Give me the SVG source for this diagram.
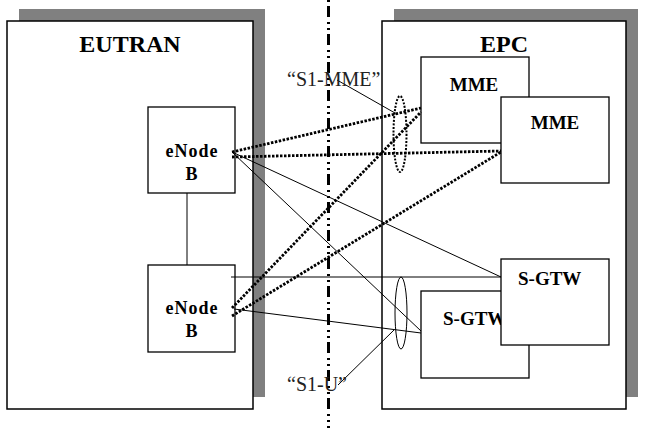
<svg xmlns="http://www.w3.org/2000/svg" width="647" height="428" viewBox="0 0 647 428">
<style>
.shadow{fill:#808080;stroke:none}
.box{fill:#fff;stroke:#000;stroke-width:1.5}
.node{fill:#fff;stroke:#000;stroke-width:1.3}
.title{font-family:"Liberation Serif",serif;font-weight:bold;font-size:24px;fill:#000;text-anchor:middle}
.lbl{font-family:"Liberation Serif",serif;font-weight:bold;font-size:19px;fill:#000;text-anchor:middle}
.enb{font-family:"Liberation Serif",serif;font-weight:bold;font-size:18px;letter-spacing:1px;fill:#000;text-anchor:middle}
.ann{font-family:"Liberation Serif",serif;font-size:20px;fill:#222}
.thin{stroke:#000;stroke-width:1;fill:none}
.dot{stroke:#000;stroke-width:2.8;stroke-dasharray:2.5 1.5;fill:none}
</style>
<rect width="647" height="428" fill="#fff"/>
<g id="eutran">
<rect class="shadow" x="19" y="9" width="246" height="388"/>
<rect class="box" x="7" y="21" width="246" height="388"/>
<text class="title" x="130" y="52">EUTRAN</text>
</g>
<g id="epc">
<rect class="shadow" x="394" y="9" width="244" height="388"/>
<rect class="box" x="382" y="21" width="244" height="388"/>
<text class="title" x="504" y="52">EPC</text>
</g>
<g id="divider">
<line x1="328.5" y1="-22" x2="328.5" y2="428" stroke="#000" stroke-width="3" stroke-dasharray="11 5 2 4 2 4"/>
</g>
<g id="enodeb1">
<rect class="node" x="148" y="107" width="87" height="86"/>
<text class="enb" x="192" y="157">eNode</text>
<text class="enb" x="192" y="180">B</text>
</g>
<g id="enodeb2">
<rect class="node" x="148" y="265" width="87" height="87"/>
<text class="enb" x="192" y="314">eNode</text>
<text class="enb" x="192" y="337">B</text>
</g>
<g id="mme1">
<rect class="node" x="421" y="57" width="108" height="86"/>
<text class="lbl" x="474" y="91">MME</text>
</g>
<g id="mme2">
<rect class="node" x="501" y="97" width="108" height="86"/>
<text class="lbl" x="555" y="129">MME</text>
</g>
<g id="sgtw1">
<rect class="node" x="421" y="291" width="108" height="87"/>
<text class="lbl" x="443" y="325" style="text-anchor:start">S-GTW</text>
</g>
<g id="sgtw2">
<rect class="node" x="501" y="259" width="108" height="86"/>
<text class="lbl" x="518" y="285" style="text-anchor:start">S-GTW</text>
</g>
<g id="connectors">
<line class="thin" x1="187" y1="193" x2="187" y2="265"/>
<line class="dot" x1="232" y1="152" x2="421" y2="108"/>
<line class="dot" x1="232" y1="157" x2="501" y2="151"/>
<line class="thin" x1="232" y1="152" x2="501" y2="277"/>
<line class="thin" x1="232" y1="152" x2="421" y2="331"/>
<line class="dot" x1="232" y1="308" x2="421" y2="112"/>
<line class="dot" x1="232" y1="316" x2="501" y2="152"/>
<line class="thin" x1="231" y1="277" x2="501" y2="277"/>
<line class="thin" x1="234" y1="309" x2="421" y2="333"/>
<ellipse cx="400" cy="134" rx="6.5" ry="38" fill="none" stroke="#000" stroke-width="2" stroke-dasharray="2 1.5"/>
<ellipse cx="401" cy="313" rx="6" ry="36" fill="none" stroke="#000" stroke-width="1"/>
<line class="thin" x1="337" y1="80" x2="395" y2="113"/>
<line class="thin" x1="338" y1="385" x2="394" y2="330"/>
</g>
<g id="labels">
<text class="ann" x="287" y="86">“S1-MME”</text>
<text class="ann" x="287" y="391">“S1-U”</text>
</g>
</svg>
